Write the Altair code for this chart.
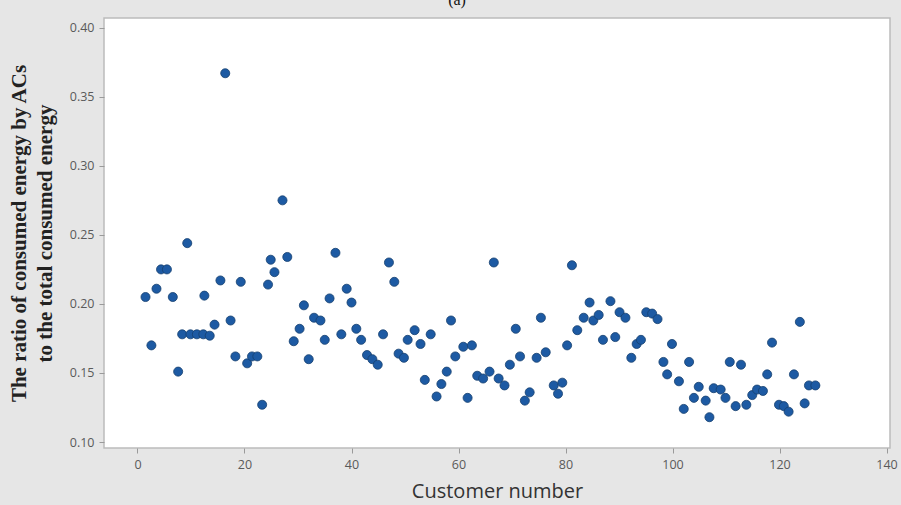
import altair as alt
import pandas as pd

# Customer positions along the axis and the share of each customer's energy
# that goes to air conditioners
customer_number = [
    1.5, 2.6, 3.55, 4.4, 5.5, 6.6, 7.6, 8.35, 9.3, 9.9,
    11.1, 12.3, 12.5, 13.5, 14.4, 15.5, 16.4, 17.4, 18.3, 19.3,
    20.5, 21.4, 22.4, 23.3, 24.4, 24.9, 25.6, 27.1, 28.0, 29.2,
    30.3, 31.1, 32.0, 33.0, 34.2, 35.0, 35.9, 37.0, 38.1, 39.1,
    40.0, 40.9, 41.8, 42.9, 43.9, 44.9, 45.9, 47.0, 48.0, 48.8,
    49.8, 50.5, 51.8, 52.9, 53.7, 54.8, 55.9, 56.8, 57.8, 58.6,
    59.4, 60.9, 61.7, 62.5, 63.5, 64.6, 65.8, 66.6, 67.5, 68.6,
    69.6, 70.7, 71.5, 72.4, 73.3, 74.6, 75.4, 76.3, 77.8, 78.6,
    79.4, 80.3, 81.2, 82.2, 83.4, 84.5, 85.2, 86.2, 87.0, 88.4,
    89.3, 90.1, 91.2, 92.3, 93.3, 94.1, 95.1, 96.2, 97.2, 98.3,
    99.0, 99.9, 101.2, 102.1, 103.1, 104.0, 104.9, 106.2, 106.9, 107.7,
    109.0, 109.9, 110.7, 111.8, 112.8, 113.8, 114.9, 115.8, 116.9, 117.7,
    118.6, 119.9, 120.8, 121.7, 122.7, 123.8, 124.7, 125.5, 126.7,
]
ratio = [
    0.205, 0.170, 0.211, 0.225, 0.225, 0.205, 0.151, 0.178, 0.244, 0.178,
    0.178, 0.178, 0.206, 0.177, 0.185, 0.217, 0.367, 0.188, 0.162, 0.216,
    0.157, 0.162, 0.162, 0.127, 0.214, 0.232, 0.223, 0.275, 0.234, 0.173,
    0.182, 0.199, 0.160, 0.190, 0.188, 0.174, 0.204, 0.237, 0.178, 0.211,
    0.201, 0.182, 0.174, 0.163, 0.160, 0.156, 0.178, 0.230, 0.216, 0.164,
    0.161, 0.174, 0.181, 0.171, 0.145, 0.178, 0.133, 0.142, 0.151, 0.188,
    0.162, 0.169, 0.132, 0.170, 0.148, 0.146, 0.151, 0.230, 0.146, 0.141,
    0.156, 0.182, 0.162, 0.130, 0.136, 0.161, 0.190, 0.165, 0.141, 0.135,
    0.143, 0.170, 0.228, 0.181, 0.190, 0.201, 0.188, 0.192, 0.174, 0.202,
    0.176, 0.194, 0.190, 0.161, 0.171, 0.174, 0.194, 0.193, 0.189, 0.158,
    0.149, 0.171, 0.144, 0.124, 0.158, 0.132, 0.140, 0.130, 0.118, 0.139,
    0.138, 0.132, 0.158, 0.126, 0.156, 0.127, 0.134, 0.138, 0.137, 0.149,
    0.172, 0.127, 0.126, 0.122, 0.149, 0.187, 0.128, 0.141, 0.141,
]

x_ticks = [0, 20, 40, 60, 80, 100, 120, 140]
y_ticks = [0.10, 0.15, 0.20, 0.25, 0.30, 0.35, 0.40]

df = pd.DataFrame({"customer": customer_number, "ratio": ratio})

label_font = "Open Sans"

points = alt.Chart(df).mark_circle(
    size=82, opacity=1, color="#1d5aa3", stroke="#16406f", strokeWidth=0.8
).encode(
    x=alt.X(
        "customer:Q",
        scale=alt.Scale(domain=[-6.26, 140.65], nice=False, zero=False),
        axis=alt.Axis(
            values=x_ticks,
            format="d",
            title="Customer number",
            titleFont=label_font,
            titleFontSize=20,
            titleFontWeight="normal",
            titleColor="#333333",
            titlePadding=11,
            labelFont=label_font,
            labelFontSize=12.5,
            labelColor="#5a5a5a",
            labelPadding=5,
            tickColor="#9a9a9a",
            tickSize=5,
            domain=False,
            grid=False,
        ),
    ),
    y=alt.Y(
        "ratio:Q",
        scale=alt.Scale(domain=[0.0957, 0.407], nice=False, zero=False),
        axis=alt.Axis(
            values=y_ticks,
            format=".2f",
            title=["The ratio of consumed energy by ACs", "to the total consumed energy"],
            titleFont="Liberation Serif",
            titleFontSize=21,
            titleFontWeight="bold",
            titleColor="#222222",
            titleLineHeight=26,
            titlePadding=14,
            labelFont=label_font,
            labelFontSize=12.5,
            labelColor="#5a5a5a",
            labelPadding=5,
            tickColor="#9a9a9a",
            tickSize=5,
            domain=False,
            grid=False,
        ),
    ),
)

chart = points.properties(
    width=786,
    height=430,
    title=alt.Title(
        "(a)", font="Liberation Serif", fontSize=16, fontWeight="normal",
        color="#111111", offset=10, anchor="middle", dx=-40,
    ),
    background="#e6e6e6",
    padding={"left": 104, "top": 18, "right": 11, "bottom": 57},
    autosize=alt.AutoSizeParams(type="none"),
).configure_view(
    fill="white", stroke="#bcbcbc", strokeWidth=1.5
)

chart.save("out.html", embed_options={"renderer": "svg", "actions": False})
